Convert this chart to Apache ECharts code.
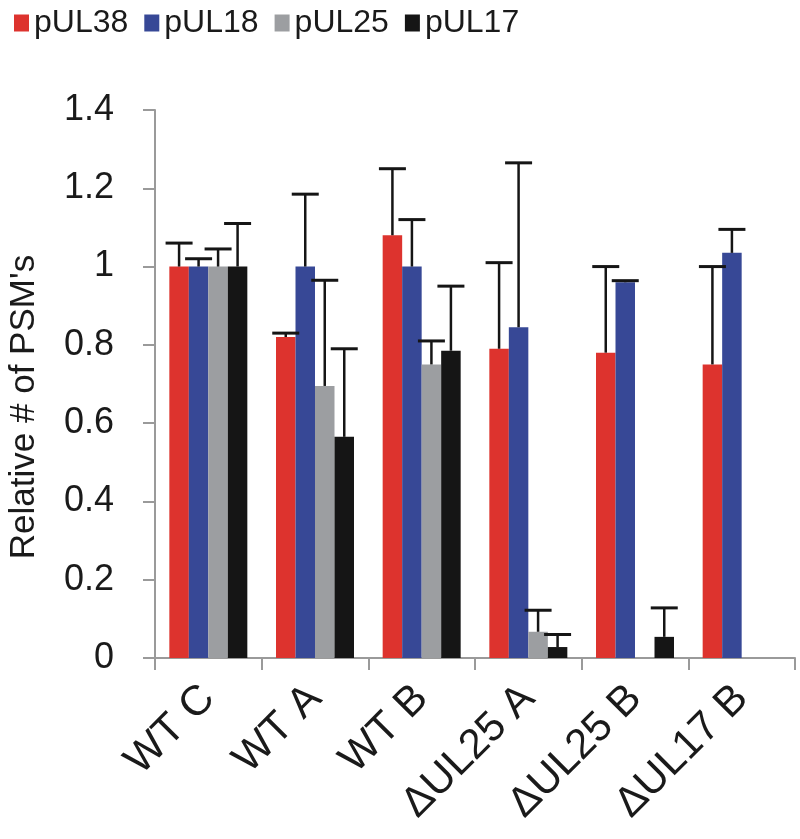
<!DOCTYPE html>
<html>
<head>
<meta charset="utf-8">
<script src="https://cdn.jsdelivr.net/npm/echarts@6/dist/echarts.min.js"></script>
<style>
  html, body { margin: 0; padding: 0; background: #fff; }
  #chart { width: 800px; height: 839px; }
</style>
</head>
<body>
<div id="chart"></div>
<script>
// ---- data ----
const categories = ['WT C', 'WT A', 'WT B', 'ΔUL25 A', 'ΔUL25 B', 'ΔUL17 B'];
const seriesNames = ['pUL38', 'pUL18', 'pUL25', 'pUL17'];
const pUL38 = [1.00, 0.82, 1.08, 0.79, 0.78, 0.75];
const pUL38Err = [0.06, 0.01, 0.17, 0.22, 0.22, 0.25];
const pUL18 = [1.00, 1.00, 1.00, 0.845, 0.96, 1.035];
const pUL18Err = [0.02, 0.185, 0.12, 0.42, 0.004, 0.06];
const pUL25 = [1.00, 0.695, 0.75, 0.067, 0, 0];
const pUL25Err = [0.045, 0.27, 0.06, 0.055, 0, 0];
const pUL17 = [1.00, 0.565, 0.785, 0.028, 0.054, 0];
const pUL17Err = [0.11, 0.225, 0.165, 0.032, 0.074, 0];
const yTicks = { min: 0, max: 1.4, interval: 0.2 };
const yTitle = "Relative # of PSM's";

const values = [pUL38, pUL18, pUL25, pUL17];
const errors = [pUL38Err, pUL18Err, pUL25Err, pUL17Err];
const colors = ['#dd332e', '#374896', '#9c9ea1', '#151515'];

const FONT = 'Liberation Sans, Arial, sans-serif';
const BAR_W = 19.5;

const chart = echarts.init(document.getElementById('chart'), null, { renderer: 'canvas' });

const barSeries = seriesNames.map((name, i) => ({
  name: name,
  type: 'bar',
  data: values[i],
  barWidth: BAR_W,
  barGap: '0%',
  itemStyle: { color: colors[i] },
  z: 2
}));

const errSeries = seriesNames.map((name, i) => ({
  name: name + ' error',
  type: 'custom',
  z: 5,
  data: values[i].map((v, k) => [k, v, errors[i][k]]),
  renderItem: function (params, api) {
    const ci = api.value(0), v = api.value(1), e = api.value(2);
    if (!(e > 0)) return null;
    const base = api.coord([ci, v]);
    const top = api.coord([ci, v + e]);
    const x = base[0] + (i - 1.5) * BAR_W;
    return {
      type: 'group',
      children: [
        { type: 'line', shape: { x1: x, y1: base[1], x2: x, y2: top[1] },
          style: { stroke: '#151515', lineWidth: 2.5 } },
        { type: 'line', shape: { x1: x - 13.5, y1: top[1], x2: x + 13.5, y2: top[1] },
          style: { stroke: '#151515', lineWidth: 3 } }
      ]
    };
  }
}));

const option = {
  backgroundColor: '#fff',
  animation: false,
  textStyle: { fontFamily: FONT },
  legend: {
    data: seriesNames,
    left: 9,
    top: 2,
    icon: 'rect',
    itemWidth: 15,
    itemHeight: 17,
    itemGap: 16,
    textStyle: { fontSize: 32, color: '#1a1a1a', fontFamily: FONT }
  },
  graphic: [{
    type: 'text',
    x: 24,
    y: 407,
    rotation: Math.PI / 2,
    style: {
      text: yTitle,
      font: '35px "Liberation Sans", Arial, sans-serif',
      fill: '#1a1a1a',
      textAlign: 'center',
      textVerticalAlign: 'middle',
      align: 'center',
      verticalAlign: 'middle'
    }
  }],
  grid: { left: 155, right: 5, top: 110, bottom: 181, containLabel: false },
  xAxis: {
    type: 'category',
    data: categories,
    axisLine: { lineStyle: { color: '#9a9a9a', width: 2 } },
    axisTick: { show: true, length: 12, lineStyle: { color: '#9a9a9a', width: 2 } },
    axisLabel: { rotate: 45, fontSize: 42, color: '#1a1a1a', margin: 34, fontFamily: FONT, interval: 0 }
  },
  yAxis: {
    type: 'value',
    min: yTicks.min,
    max: yTicks.max,
    interval: yTicks.interval,
    axisLine: { show: true, lineStyle: { color: '#9a9a9a', width: 2 } },
    axisTick: { show: true, length: 12, lineStyle: { color: '#9a9a9a', width: 2 } },
    splitLine: { show: false },
    axisLabel: { fontSize: 36, color: '#1a1a1a', margin: 41, fontFamily: FONT }
  },
  series: barSeries.concat(errSeries)
};

chart.setOption(option);
</script>
</body>
</html>
